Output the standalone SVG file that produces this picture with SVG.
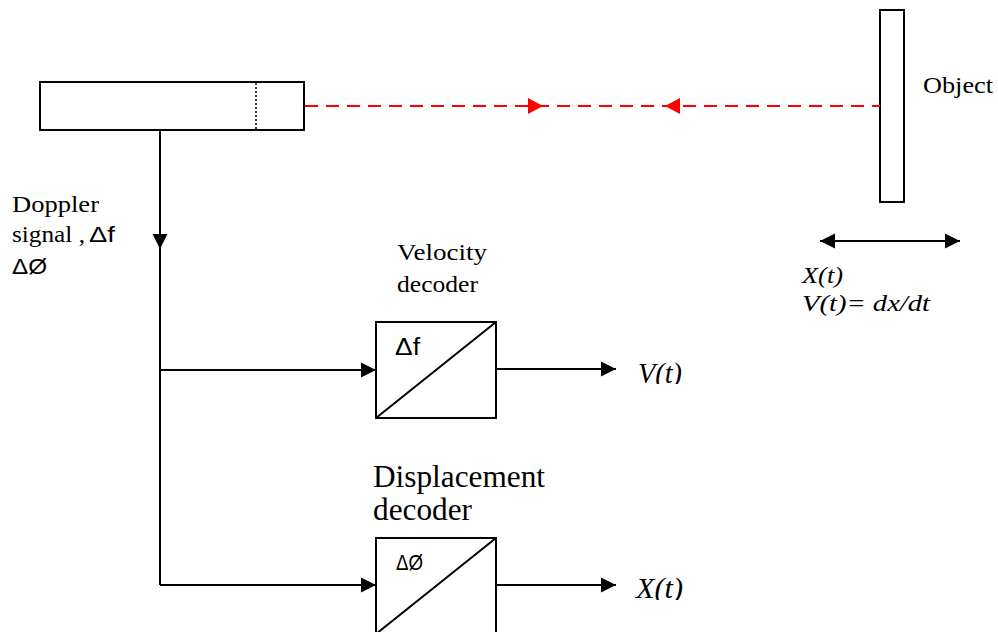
<svg xmlns="http://www.w3.org/2000/svg" width="998" height="632" viewBox="0 0 998 632">
<defs>
<marker id="ab" viewBox="0 0 10 10" refX="10" refY="5" markerWidth="15" markerHeight="16" markerUnits="userSpaceOnUse" orient="auto"><path d="M0,0 L10,5 L0,10 Z" fill="#000"/></marker>
<marker id="as" viewBox="0 0 10 10" refX="10" refY="5" markerWidth="15" markerHeight="16" markerUnits="userSpaceOnUse" orient="auto-start-reverse"><path d="M0,0 L10,5 L0,10 Z" fill="#000"/></marker>
<clipPath id="cv"><rect x="600" y="340" width="120" height="44"/></clipPath>
<clipPath id="cx"><rect x="600" y="556" width="120" height="44"/></clipPath>
</defs>
<style>
.box{fill:#fff;stroke:#000;stroke-width:2}
.ln{fill:none;stroke:#000;stroke-width:2}
.serif{font-family:"Liberation Serif",serif;fill:#000}
.sans{font-family:"Liberation Sans",sans-serif;fill:#000}
.it{font-style:italic}
</style>
<rect width="998" height="632" fill="#fff"/>
<g id="laser">
<rect class="box" x="40" y="82" width="264" height="48"/>
<line x1="256" y1="83" x2="256" y2="129" stroke="#000" stroke-width="1.5" stroke-dasharray="2,2"/>
</g>
<g id="object">
<rect class="box" x="880" y="10" width="24" height="192"/>
<text class="serif" x="923" y="93" font-size="24" textLength="70" lengthAdjust="spacingAndGlyphs">Object</text>
</g>
<g id="motion">
<line class="ln" x1="820" y1="241" x2="960" y2="241" marker-start="url(#as)" marker-end="url(#ab)"/>
<text class="serif it" x="802" y="283" font-size="24" textLength="41" lengthAdjust="spacingAndGlyphs">X(t)</text>
<text class="serif it" x="802" y="311" font-size="24" textLength="128" lengthAdjust="spacingAndGlyphs">V(t)= dx/dt</text>
</g>
<g id="velocity-decoder">
<text class="serif" x="397" y="260" font-size="23" textLength="90" lengthAdjust="spacingAndGlyphs">Velocity</text>
<text class="serif" x="397" y="292" font-size="23" textLength="81" lengthAdjust="spacingAndGlyphs">decoder</text>
<rect class="box" x="376" y="322" width="120" height="96"/>
<line class="ln" x1="376" y1="418" x2="496" y2="322"/>
<text class="sans" x="395" y="355" font-size="23" textLength="25" lengthAdjust="spacingAndGlyphs">Δf</text>
</g>
<g id="displacement-decoder">
<text class="serif" x="373" y="487" font-size="32" textLength="172" lengthAdjust="spacingAndGlyphs">Displacement</text>
<text class="serif" x="373" y="520" font-size="32" textLength="99" lengthAdjust="spacingAndGlyphs">decoder</text>
<rect class="box" x="376" y="538" width="120" height="96"/>
<line class="ln" x1="376" y1="634" x2="496" y2="538"/>
<text class="sans" x="396" y="570" font-size="22" textLength="27" lengthAdjust="spacingAndGlyphs">ΔØ</text>
</g>
<g id="labels">
<text class="serif" x="12" y="212" font-size="23" textLength="87" lengthAdjust="spacingAndGlyphs">Doppler</text>
<text class="serif" x="12" y="242" font-size="23" textLength="73" lengthAdjust="spacingAndGlyphs">signal ,</text>
<text class="sans" x="89" y="242" font-size="22" textLength="26" lengthAdjust="spacingAndGlyphs">Δf</text>
<text class="sans" x="12" y="274" font-size="22" textLength="35" lengthAdjust="spacingAndGlyphs">ΔØ</text>
<text class="serif it" x="638" y="383" font-size="29" textLength="44" lengthAdjust="spacingAndGlyphs" clip-path="url(#cv)">V(t)</text>
<text class="serif it" x="636" y="598" font-size="29" textLength="47" lengthAdjust="spacingAndGlyphs" clip-path="url(#cx)">X(t)</text>
</g>
<g id="connectors">
<line x1="305" y1="106" x2="880" y2="106" stroke="#f00" stroke-width="2" stroke-dasharray="13,8"/>
<path d="M528,98 L543,106 L528,114 Z" fill="#f00"/>
<path d="M680,98 L665,106 L680,114 Z" fill="#f00"/>
<line class="ln" x1="160" y1="130" x2="160" y2="249" marker-end="url(#ab)"/>
<line class="ln" x1="160" y1="249" x2="160" y2="585"/>
<line class="ln" x1="160" y1="370" x2="376" y2="370" marker-end="url(#ab)"/>
<line class="ln" x1="160" y1="585" x2="376" y2="585" marker-end="url(#ab)"/>
<line class="ln" x1="496" y1="369" x2="616" y2="369" marker-end="url(#ab)"/>
<line class="ln" x1="496" y1="585" x2="616" y2="585" marker-end="url(#ab)"/>
</g>
</svg>
